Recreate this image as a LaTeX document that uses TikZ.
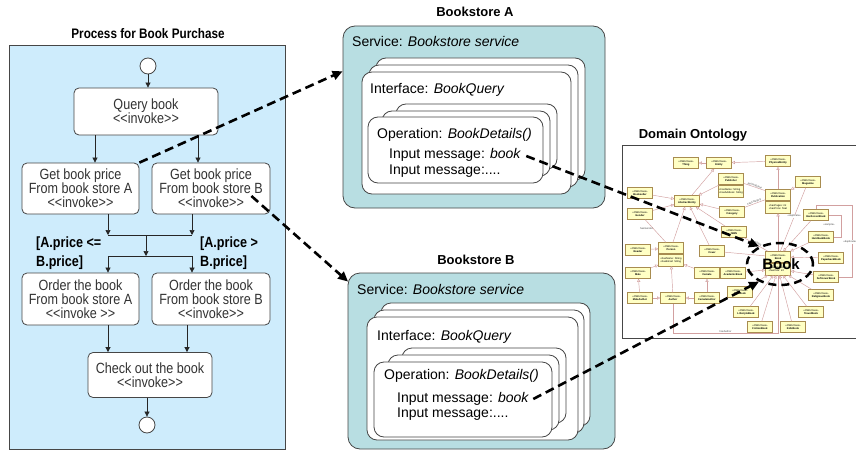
\documentclass[tikz,border=0pt]{standalone}
\usepackage{fontspec}
\setmainfont{Liberation Sans}
\newfontfamily\narrowsans{Liberation Sans}[FakeStretch=0.85]
\usetikzlibrary{arrows.meta,shapes.geometric,calc}

\definecolor{procfill}{RGB}{206,236,252}
\definecolor{svcfill}{RGB}{184,222,226}
\definecolor{edgegray}{RGB}{70,70,70}
\definecolor{owlfill}{RGB}{255,255,196}
\definecolor{owlborder}{RGB}{168,140,80}
\definecolor{owlline}{RGB}{210,160,160}

\newcommand\stereo[1]{\textless\textless#1\textgreater\textgreater}

\tikzset{
  procpanel/.style={draw=edgegray, line width=0.8pt, fill=procfill},
  heading/.style={font=\bfseries\fontsize{13}{15}\selectfont, inner sep=0pt},
  flowbox/.style={draw=edgegray, line width=0.8pt, fill=white, rounded corners=5pt,
    align=center, inner sep=0pt, text=black!80,
    font=\narrowsans\fontsize{14.8}{13.8}\selectfont},
  state/.style={circle, draw=edgegray, fill=white, line width=0.8pt,
    minimum size=16pt, inner sep=0pt},
  flow/.style={draw=black!85, line width=0.7pt, -{Triangle[length=5pt,width=5pt]}},
  flowline/.style={draw=black!85, line width=0.7pt},
  guard/.style={font=\narrowsans\bfseries\fontsize{14.8}{19}\selectfont,
    align=left, inner sep=0pt, anchor=west},
  svcbox/.style={draw=edgegray, line width=0.8pt, fill=svcfill, rounded corners=12pt},
  card/.style={draw=edgegray, line width=0.8pt, fill=white, rounded corners=10pt},
  svctext/.style={anchor=west, inner sep=0pt, font=\fontsize{14}{16}\selectfont},
  link/.style={line width=2.6pt, dash pattern=on 9pt off 5pt,
    -{Triangle[length=10pt,width=9pt]}},
  owl/.style={draw=owlborder, line width=0.4pt, fill=owlfill, minimum width=25pt,
    minimum height=11pt, inner sep=0.6pt, align=center,
    font=\fontsize{2.6}{3.1}\selectfont},
  owlattrs/.style={owl, minimum height=12pt, align=left},
  gen/.style={draw=owlline, line width=0.45pt, -{Triangle[open,length=3.2pt,width=3.2pt]}},
  assoc/.style={draw=owlline, line width=0.45pt},
  assoclbl/.style={font=\fontsize{2.6}{3}\selectfont, inner sep=0.3pt, text=black!70},
}

% one ontology class box
\newcommand\owl[3]{\node[owl] (#1) at (#2) {\stereo{OWLClass}\\\textbf{#3}};}
% a class box with an attribute compartment below it
\newcommand\owlattr[5]{%
  \node[owl] (#1) at (#2) {\stereo{OWLClass}\\\textbf{#3}};
  \node[owlattrs, anchor=north, minimum width=25pt] (#1attr) at (#1.south) {#4\\#5};}

\begin{document}
\begin{tikzpicture}[x=1pt,y=-1pt]
\useasboundingbox (0,0) rectangle (856,452);
\clip (0,0) rectangle (856,452);
\fill[white] (0,0) rectangle (856,452);

% ---------------- process (activity diagram) ----------------
\node[procpanel, minimum width=276pt, minimum height=404pt, inner sep=0pt] (proc) at (147,247) {};
\node[heading, font=\narrowsans\bfseries\fontsize{13.8}{15}\selectfont] (procTitle) at (148,34) {Process for Book Purchase};

\node[state] (start) at (148,66) {};
\node[flowbox, minimum width=144pt, minimum height=47pt] (query) at (146,111.5) {Query book\\\stereo{invoke}};
\node[flowbox, minimum width=117pt, minimum height=51pt] (getA) at (80.5,188.5) {Get book price\\From book store A\\\stereo{invoke}};
\node[flowbox, minimum width=118pt, minimum height=51pt] (getB) at (211,188.5) {Get book price\\From book store B\\\stereo{invoke}};
\node[flowbox, minimum width=117pt, minimum height=52pt] (orderA) at (80.5,299) {Order the book\\From book store A\\\stereo{invoke }};
\node[flowbox, minimum width=118pt, minimum height=52pt] (orderB) at (211,299) {Order the book\\From book store B\\\stereo{invoke}};
\node[flowbox, minimum width=124pt, minimum height=45pt] (checkout) at (150,375) {Check out the book\\\stereo{invoke}};
\node[state] (finish) at (147,425) {};

\node[guard] (guardA) at (36,253) {[A.price <=\\B.price]};
\node[guard] (guardB) at (200,253) {[A.price >\\B.price]};

\coordinate (qL) at ([xshift=-51pt]query.south);
\coordinate (qR) at ([xshift=52pt]query.south);
\coordinate (gA) at ([xshift=27.5pt]getA.south);
\coordinate (gB) at ([xshift=-19pt]getB.south);
\coordinate (joinL) at (108,235);
\coordinate (joinR) at (192,235);
\coordinate (joinC) at (146,235);
\coordinate (forkL) at (108,256);
\coordinate (forkR) at (192,256);
\coordinate (forkC) at (146,256);
\coordinate (oA) at ([xshift=27.5pt]orderA.south);
\coordinate (oB) at ([xshift=-24pt]orderB.south);
\coordinate (ck) at ([xshift=-3pt]checkout.south);

\draw[flow] (start) -- (start |- query.north);
\draw[flow] (qL) -- (qL |- getA.north);
\draw[flow] (qR) -- (qR |- getB.north);
\draw[flow] (gA) -- (joinL);
\draw[flow] (gB) -- (joinR);
\draw[flowline] (joinL) -- (joinR);
\draw[flow] (joinC) -- (forkC);
\draw[flowline] (forkL) -- (forkR);
\draw[flow] (forkL) -- (forkL |- orderA.north);
\draw[flow] (forkR) -- (forkR |- orderB.north);
\draw[flow] (oA) -- (oA |- checkout.north);
\draw[flow] (oB) -- (oB |- checkout.north);
\draw[flow] (ck) -- (finish);

% ---------------- Bookstore A ----------------
\node[heading] (titleA) at (475,12) {Bookstore A};
\node[svcbox, minimum width=262pt, minimum height=182pt] (svcA) at (474,117) {};
\node[svctext] (svcAlbl) at (352,41) {Service: \textit{Bookstore service}};
\node[card, minimum width=209pt, minimum height=122pt] (ifA3) at (480.5,119) {};
\node[card, minimum width=209pt, minimum height=122pt] (ifA2) at (473.5,126) {};
\node[card, minimum width=209pt, minimum height=122pt] (ifA1) at (466.5,133) {};
\node[svctext] (ifAlbl) at (370,90) {Interface: \textit{BookQuery}};
\node[card, minimum width=161pt, minimum height=65pt] (opA3) at (476.5,136.5) {};
\node[card, minimum width=168pt, minimum height=65pt] (opA2) at (466,143.5) {};
\node[card, minimum width=175pt, minimum height=66pt] (opA1) at (455.5,150) {};
\node[svctext] (opAlbl) at (377,135) {Operation: \textit{BookDetails()}};
\node[svctext] (inA1) at (389,155) {Input message: \textit{book}};
\node[svctext] (inA2) at (389,171) {Input message:....};

% ---------------- Bookstore B ----------------
\node[heading] (titleB) at (476,260) {Bookstore B};
\node[svcbox, minimum width=267pt, minimum height=176pt] (svcB) at (481.5,361) {};
\node[svctext] (svcBlbl) at (357,289) {Service: \textit{Bookstore service}};
\node[card, minimum width=209pt, minimum height=123pt] (ifB3) at (485.5,364.5) {};
\node[card, minimum width=210pt, minimum height=123pt] (ifB2) at (479,371.5) {};
\node[card, minimum width=211pt, minimum height=123pt] (ifB1) at (472.5,378.5) {};
\node[svctext] (ifBlbl) at (377,337) {Interface: \textit{BookQuery}};
\node[card, minimum width=164pt, minimum height=75pt] (opB3) at (484,385.5) {};
\node[card, minimum width=171pt, minimum height=75pt] (opB2) at (473.5,392.5) {};
\node[card, minimum width=178pt, minimum height=75pt] (opB1) at (463,399.5) {};
\node[svctext] (opBlbl) at (384,376) {Operation: \textit{BookDetails()}};
\node[svctext] (inB1) at (397,399) {Input message: \textit{book}};
\node[svctext] (inB2) at (397,414) {Input message:....};

% ---------------- Domain ontology ----------------
\node[heading] (titleOnt) at (693,135) {Domain Ontology};
\draw[draw=edgegray, line width=0.8pt, fill=white] (622,145) rectangle (872,338);

\owl{Thing}{686,163}{Thing}
\owl{Entity}{719,163}{Entity}
\owl{PhysicalEntity}{778,161}{PhysicalEntity}
\owlattr{Publisher}{731,179}{Publisher}{+hasName: String}{+hasAddress: String}
\owl{Magazine}{808,182}{Magazine}
\owl{Bookseller}{640,193}{Bookseller}
\owl{AbstractEntity}{687,201}{AbstractEntity}
\owlattr{Publication}{778,195}{Publication}{+hasPages: int}{+hasPrice: float}
\owl{Gender}{640,214}{Gender}
\owl{Category}{732,212}{Category}
\owl{HardcoverBook}{816,215}{HardcoverBook}
\owl{ISBN}{734,232}{ISBN}
\owl{HardbackBook}{821,237}{HardbackBook}
\owl{Reader}{638,250}{Reader}
\owlattr{Person}{671,248}{Person}{+hasName: String}{+hasEmail: String}
\owl{Cover}{712,251}{Cover}
\owlattr{Book}{778,257}{Book}{+hasTitle: String}{+hasYear: int}
\owl{PaperbackBook}{831,258}{PaperbackBook}
\owl{Male}{638,273}{Male}
\owl{Female}{707,273}{Female}
\owl{AcademicBook}{733,273}{AcademicBook}
\owl{SoftcoverBook}{826,277}{SoftcoverBook}
\owl{MaleAuthor}{640,298}{MaleAuthor}
\owl{Author}{673,298}{Author}
\owl{FemaleAuthor}{707,298}{FemaleAuthor}
\owl{TextBook}{740,292}{TextBook}
\owl{ReligiousBook}{821,295}{ReligiousBook}
\owl{LifestyleBook}{746,312}{LifestyleBook}
\owl{TravelBook}{811,312}{TravelBook}
\owl{FictionBook}{760,327}{FictionBook}
\owl{KidsBook}{793,327}{KidsBook}

% generalisations
\draw[gen] (Entity) -- (Thing);
\draw[gen] (PhysicalEntity) -- (Entity);
\draw[gen] (AbstractEntity) -- (Entity);
\draw[gen] (Publication) -- (PhysicalEntity);
\draw[gen] (Magazine) -- (Publication);
\draw[gen] (Book) -- (Publicationattr);
\draw[gen] (Bookseller) -- (AbstractEntity);
\draw[gen] (Gender) -- (AbstractEntity);
\draw[gen] (Publisher) -- (AbstractEntity);
\draw[gen] (Category) -- (AbstractEntity);
\draw[gen] (ISBN) -- (AbstractEntity);
\draw[gen] (Person) -- (AbstractEntity);
\draw[gen] (Cover) -- (AbstractEntity);
\draw[gen] (Reader) -- (Person);
\draw[gen] (Male) -- (Personattr);
\draw[gen] (Female) -- (Personattr);
\draw[gen] (Author) -- (Personattr);
\draw[gen] (MaleAuthor) -- (Male);
\draw[gen] (MaleAuthor) -- (Author);
\draw[gen] (FemaleAuthor) -- (Female);
\draw[gen] (FemaleAuthor) -- (Author);
\draw[gen] (HardcoverBook) -- (Book);
\draw[gen] (HardbackBook) -- (Book);
\draw[gen] (PaperbackBook) -- (Book);
\draw[gen] (SoftcoverBook) -- (Bookattr);
\draw[gen] (ReligiousBook) -- (Bookattr);
\draw[gen] (TravelBook) -- (Bookattr);
\draw[gen] (KidsBook) -- (Bookattr);
\draw[gen] (FictionBook) -- (Bookattr);
\draw[gen] (LifestyleBook) -- (Bookattr);
\draw[gen] (TextBook) -- (Bookattr);
\draw[gen] (AcademicBook) -- (Bookattr);

% associations
\draw[assoc] (Publisher) -- node[assoclbl, above, sloped] {hasPublisher} (Publication);
\draw[assoc] (Category) -- node[assoclbl, above, sloped] {hasCategory} (Publication);
\draw[assoc] (ISBN) -- node[assoclbl, above, sloped] {hasISBN} (Book);
\draw[assoc] (Cover) -- (Book);
\draw[assoc] (Gender) -- node[assoclbl, left, pos=0.4] {hasGender} (Person);
\draw[assoc] (Magazine) -- node[assoclbl, fill=white, pos=0.45] {\stereo{duplicate}} (Book);
\coordinate (authDown) at (673,333);
\coordinate (authRight) at (778,333);
\draw[assoc] (Author) -- (authDown) -- node[assoclbl, above, pos=0.5] {hasAuthor} (authRight) -- (Bookattr);
\coordinate (sampleR) at (841,215);
\draw[assoc] (HardcoverBook) -- (sampleR) |- (HardbackBook);
\node[assoclbl] (sampleLbl) at (829,225) {\stereo{sample}};
\coordinate (dupR) at (852,205);
\draw[assoc] (SoftcoverBook) -| (dupR) -| (HardcoverBook);
\node[assoclbl, fill=white] (dupLbl) at (850,242) {\stereo{duplicate}};

% highlighted concept
\node[ellipse, draw=black, line width=2.5pt, dash pattern=on 8pt off 5pt,
      minimum width=66pt, minimum height=42pt, inner sep=0pt] (bookHL) at (780,264) {};
\node[font=\bfseries\fontsize{15}{17}\selectfont, inner sep=0pt] (bookBig) at (781,264) {Book};

% ---------------- semantic links ----------------
\coordinate (aHit) at ($(svcA.north west)!0.25!(svcA.south west)$);
\coordinate (bStart) at ($(getB.east)+(-19,7.5)$);
\coordinate (bHit) at ($(svcB.north west)+(0.5,9)$);
\coordinate (aBook) at ($(inA1.east)+(5,1)$);
\coordinate (bBook) at ($(inB1.east)+(4,0)$);
\draw[link] (getA.north east) -- (aHit);
\draw[link] (bStart) -- (bHit);
\draw[link] (aBook) -- (bookHL.140);
\draw[link] (bBook) -- (bookHL.220);
\end{tikzpicture}
\end{document}
